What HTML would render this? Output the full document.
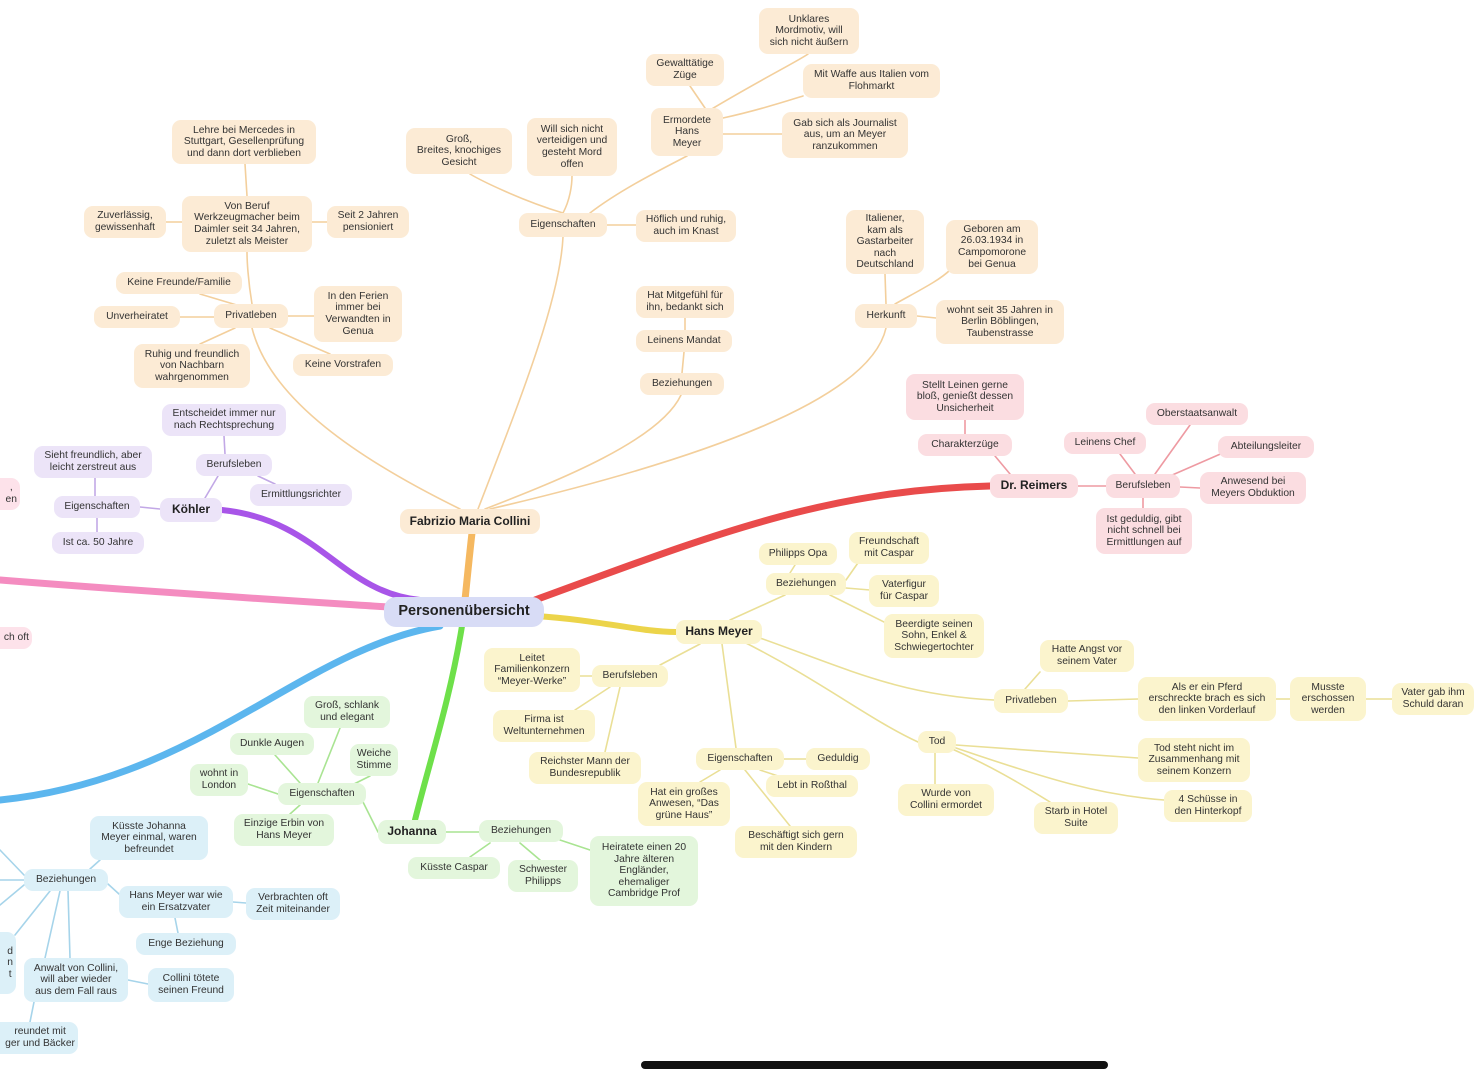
<!DOCTYPE html>
<html><head><meta charset="utf-8"><style>
html,body{margin:0;padding:0;background:#fff;}
#w{position:relative;width:1482px;height:1080px;overflow:hidden;font-family:"Liberation Sans",sans-serif;}
svg{position:absolute;left:0;top:0;}
.n{position:absolute;display:flex;align-items:center;justify-content:center;text-align:center;border-radius:9px;font-size:10.3px;line-height:11.6px;color:#333;box-sizing:border-box;padding:0 3px;}
.o{background:#fcebd5}.r{background:#fbdde1}.p{background:#ece4f8}.y{background:#fbf4cd}.g{background:#e3f6dc}.b{background:#dcf0f8}.k{background:#fde2ea}
.B{font-weight:bold;font-size:12px;color:#222}
</style></head><body><div id="w">
<svg width="1482" height="1080" fill="none" stroke-linecap="round">
<!-- main branches -->
<path d="M465,600 C468,570 470,550 472,533" stroke="#f5b860" stroke-width="7"/>
<path d="M535,600 C700,540 820,490 990,486" stroke="#e94b4b" stroke-width="7"/>
<path d="M535,616 C600,620 640,632 676,632" stroke="#ecd44a" stroke-width="6"/>
<path d="M222,510 C320,520 340,592 420,600" stroke="#a855e8" stroke-width="6"/>
<path d="M0,580 C150,592 280,600 388,607" stroke="#f48cc0" stroke-width="7"/>
<path d="M440,626 C300,650 200,780 0,800" stroke="#5cb6ee" stroke-width="7"/>
<path d="M462,626 C450,700 430,760 415,820" stroke="#6ee04a" stroke-width="6"/>
<g stroke="#f3cf9c" stroke-width="1.6">
<path d="M478,509 C520,400 560,300 563,237"/>
<path d="M485,509 C560,480 660,440 681,395"/>
<path d="M490,509 C700,460 870,400 886,328"/>
<path d="M460,509 C360,460 270,400 252,328"/>
<path d="M563,213 C520,200 480,180 470,174"/>
<path d="M563,213 C570,200 572,185 572,176"/>
<path d="M590,213 C620,190 660,170 687,156"/>
<path d="M607,225 L636,225"/>
<path d="M705,108 L690,86"/><path d="M710,110 C760,80 800,60 808,54"/>
<path d="M723,118 C760,110 790,100 803,96"/><path d="M723,134 L782,134"/>
<path d="M685,318 L685,330"/><path d="M684,352 L682,373"/>
<path d="M886,304 L885,274"/><path d="M895,304 C920,290 940,280 950,270"/><path d="M917,316 L936,318"/>
<path d="M252,304 C248,280 247,260 247,252"/><path d="M247,196 L245,164"/>
<path d="M166,222 L182,222"/><path d="M312,222 L327,222"/>
<path d="M240,306 L200,294"/><path d="M180,317 L214,317"/><path d="M288,316 L314,316"/>
<path d="M235,328 L200,344"/><path d="M270,328 L330,354"/>
</g>
<g stroke="#ee9aa2" stroke-width="1.6">
<path d="M1078,486 L1106,486"/><path d="M1010,474 L995,456"/><path d="M965,434 L965,420"/>
<path d="M1135,474 L1120,454"/><path d="M1155,474 L1190,425"/><path d="M1170,476 L1225,452"/><path d="M1180,487 L1200,488"/><path d="M1143,498 L1143,508"/>
</g>
<g stroke="#c2a8e6" stroke-width="1.6">
<path d="M205,498 L218,476"/><path d="M225,454 L224,436"/><path d="M258,476 L275,484"/>
<path d="M140,507 L160,509"/><path d="M95,496 L95,478"/><path d="M97,518 L97,532"/>
</g>
<g stroke="#eadf96" stroke-width="1.6">
<path d="M730,620 L785,595"/><path d="M790,573 L795,565"/><path d="M846,580 L860,560"/><path d="M846,588 L870,590"/><path d="M830,595 L900,630"/>
<path d="M700,644 L660,665"/><path d="M592,676 L580,676"/><path d="M610,687 L575,710"/><path d="M620,687 L605,752"/>
<path d="M722,644 L736,748"/><path d="M784,759 L806,759"/><path d="M760,770 L790,780"/><path d="M720,770 L700,782"/><path d="M745,770 L790,826"/>
<path d="M760,638 C850,670 900,695 994,700"/><path d="M1025,689 L1040,672"/><path d="M1068,701 L1138,699"/><path d="M1276,699 L1290,699"/><path d="M1366,699 L1392,699"/>
<path d="M740,640 C820,680 870,720 918,742"/><path d="M935,753 L935,784"/><path d="M956,745 L1138,758"/><path d="M950,748 C1000,770 1030,790 1050,802"/><path d="M956,748 C1050,780 1100,795 1164,800"/>
</g>
<g stroke="#a9e492" stroke-width="1.6">
<path d="M378,832 L362,800"/><path d="M318,783 L340,728"/><path d="M300,783 L275,755"/><path d="M350,786 L370,776"/><path d="M278,794 L248,784"/><path d="M300,805 L290,814"/>
<path d="M446,832 L479,832"/><path d="M490,843 L470,857"/><path d="M520,843 L540,860"/><path d="M560,840 L590,850"/>
</g>
<g stroke="#a6d4ea" stroke-width="1.6">
<path d="M0,850 L24,875"/><path d="M0,880 L24,880"/><path d="M0,905 L24,885"/><path d="M90,869 L100,860"/><path d="M108,884 L119,894"/>
<path d="M233,902 L246,903"/><path d="M175,918 L178,933"/><path d="M50,891 L15,935"/><path d="M60,891 L45,958"/><path d="M68,891 L70,958"/><path d="M128,980 L148,984"/><path d="M34,1002 L30,1022"/>
</g>
</svg>

<div class="n o B" style="left:400px;top:509px;width:140px;height:25px">Fabrizio Maria Collini</div>
<div class="n o" style="left:519px;top:213px;width:88px;height:24px">Eigenschaften</div>
<div class="n o" style="left:406px;top:128px;width:106px;height:46px">Groß,<br>Breites, knochiges<br>Gesicht</div>
<div class="n o" style="left:527px;top:118px;width:90px;height:58px">Will sich nicht<br>verteidigen und<br>gesteht Mord<br>offen</div>
<div class="n o" style="left:636px;top:210px;width:100px;height:32px">Höflich und ruhig,<br>auch im Knast</div>
<div class="n o" style="left:651px;top:108px;width:72px;height:48px">Ermordete<br>Hans<br>Meyer</div>
<div class="n o" style="left:646px;top:54px;width:78px;height:32px">Gewalttätige<br>Züge</div>
<div class="n o" style="left:759px;top:8px;width:100px;height:46px">Unklares<br>Mordmotiv, will<br>sich nicht äußern</div>
<div class="n o" style="left:803px;top:64px;width:137px;height:34px">Mit Waffe aus Italien vom<br>Flohmarkt</div>
<div class="n o" style="left:782px;top:112px;width:126px;height:46px">Gab sich als Journalist<br>aus, um an Meyer<br>ranzukommen</div>
<div class="n o" style="left:636px;top:286px;width:98px;height:32px">Hat Mitgefühl für<br>ihn, bedankt sich</div>
<div class="n o" style="left:636px;top:330px;width:96px;height:22px">Leinens Mandat</div>
<div class="n o" style="left:640px;top:373px;width:84px;height:22px">Beziehungen</div>
<div class="n o" style="left:855px;top:304px;width:62px;height:24px">Herkunft</div>
<div class="n o" style="left:846px;top:210px;width:78px;height:64px">Italiener,<br>kam als<br>Gastarbeiter<br>nach<br>Deutschland</div>
<div class="n o" style="left:946px;top:220px;width:92px;height:54px">Geboren am<br>26.03.1934 in<br>Campomorone<br>bei Genua</div>
<div class="n o" style="left:936px;top:300px;width:128px;height:44px">wohnt seit 35 Jahren in<br>Berlin Böblingen,<br>Taubenstrasse</div>
<div class="n o" style="left:214px;top:304px;width:74px;height:24px">Privatleben</div>
<div class="n o" style="left:172px;top:120px;width:144px;height:44px">Lehre bei Mercedes in<br>Stuttgart, Gesellenprüfung<br>und dann dort verblieben</div>
<div class="n o" style="left:182px;top:196px;width:130px;height:56px">Von Beruf<br>Werkzeugmacher beim<br>Daimler seit 34 Jahren,<br>zuletzt als Meister</div>
<div class="n o" style="left:84px;top:206px;width:82px;height:32px">Zuverlässig,<br>gewissenhaft</div>
<div class="n o" style="left:327px;top:206px;width:82px;height:32px">Seit 2 Jahren<br>pensioniert</div>
<div class="n o" style="left:116px;top:272px;width:126px;height:22px">Keine Freunde/Familie</div>
<div class="n o" style="left:94px;top:306px;width:86px;height:22px">Unverheiratet</div>
<div class="n o" style="left:314px;top:286px;width:88px;height:56px">In den Ferien<br>immer bei<br>Verwandten in<br>Genua</div>
<div class="n o" style="left:134px;top:344px;width:116px;height:44px">Ruhig und freundlich<br>von Nachbarn<br>wahrgenommen</div>
<div class="n o" style="left:293px;top:354px;width:100px;height:22px">Keine Vorstrafen</div>

<div class="n r B" style="left:990px;top:474px;width:88px;height:24px">Dr. Reimers</div>
<div class="n r" style="left:1106px;top:474px;width:74px;height:24px">Berufsleben</div>
<div class="n r" style="left:918px;top:434px;width:94px;height:22px">Charakterzüge</div>
<div class="n r" style="left:906px;top:374px;width:118px;height:46px">Stellt Leinen gerne<br>bloß, genießt dessen<br>Unsicherheit</div>
<div class="n r" style="left:1064px;top:432px;width:82px;height:22px">Leinens Chef</div>
<div class="n r" style="left:1146px;top:403px;width:102px;height:22px">Oberstaatsanwalt</div>
<div class="n r" style="left:1218px;top:436px;width:96px;height:22px">Abteilungsleiter</div>
<div class="n r" style="left:1200px;top:472px;width:106px;height:32px">Anwesend bei<br>Meyers Obduktion</div>
<div class="n r" style="left:1096px;top:508px;width:96px;height:46px">Ist geduldig, gibt<br>nicht schnell bei<br>Ermittlungen auf</div>

<div class="n p B" style="left:160px;top:498px;width:62px;height:24px">Köhler</div>
<div class="n p" style="left:196px;top:454px;width:76px;height:22px">Berufsleben</div>
<div class="n p" style="left:162px;top:404px;width:124px;height:32px">Entscheidet immer nur<br>nach Rechtsprechung</div>
<div class="n p" style="left:250px;top:484px;width:102px;height:22px">Ermittlungsrichter</div>
<div class="n p" style="left:54px;top:496px;width:86px;height:22px">Eigenschaften</div>
<div class="n p" style="left:34px;top:446px;width:118px;height:32px">Sieht freundlich, aber<br>leicht zerstreut aus</div>
<div class="n p" style="left:52px;top:532px;width:92px;height:22px">Ist ca. 50 Jahre</div>

<div class="n k" style="left:-10px;top:478px;width:30px;height:32px;justify-content:flex-end">,<br>en</div>
<div class="n k" style="left:-10px;top:627px;width:42px;height:22px;justify-content:flex-end">ch oft</div>

<div class="n" style="left:384px;top:597px;width:160px;height:30px;background:#d8dcf6;border-radius:12px;font-weight:bold;font-size:14.5px;color:#222">Personenübersicht</div>

<div class="n y B" style="left:676px;top:620px;width:86px;height:24px">Hans Meyer</div>
<div class="n y" style="left:766px;top:573px;width:80px;height:22px">Beziehungen</div>
<div class="n y" style="left:759px;top:543px;width:78px;height:22px">Philipps Opa</div>
<div class="n y" style="left:849px;top:532px;width:80px;height:32px">Freundschaft<br>mit Caspar</div>
<div class="n y" style="left:869px;top:575px;width:70px;height:32px">Vaterfigur<br>für Caspar</div>
<div class="n y" style="left:884px;top:614px;width:100px;height:44px">Beerdigte seinen<br>Sohn, Enkel &amp;<br>Schwiegertochter</div>
<div class="n y" style="left:592px;top:665px;width:76px;height:22px">Berufsleben</div>
<div class="n y" style="left:484px;top:648px;width:96px;height:44px">Leitet<br>Familienkonzern<br>“Meyer-Werke”</div>
<div class="n y" style="left:493px;top:710px;width:102px;height:32px">Firma ist<br>Weltunternehmen</div>
<div class="n y" style="left:529px;top:752px;width:112px;height:32px">Reichster Mann der<br>Bundesrepublik</div>
<div class="n y" style="left:696px;top:748px;width:88px;height:22px">Eigenschaften</div>
<div class="n y" style="left:806px;top:748px;width:64px;height:22px">Geduldig</div>
<div class="n y" style="left:766px;top:775px;width:92px;height:22px">Lebt in Roßthal</div>
<div class="n y" style="left:638px;top:782px;width:92px;height:44px">Hat ein großes<br>Anwesen, “Das<br>grüne Haus”</div>
<div class="n y" style="left:735px;top:826px;width:122px;height:32px">Beschäftigt sich gern<br>mit den Kindern</div>
<div class="n y" style="left:994px;top:689px;width:74px;height:24px">Privatleben</div>
<div class="n y" style="left:1040px;top:640px;width:94px;height:32px">Hatte Angst vor<br>seinem Vater</div>
<div class="n y" style="left:1138px;top:677px;width:138px;height:44px">Als er ein Pferd<br>erschreckte brach es sich<br>den linken Vorderlauf</div>
<div class="n y" style="left:1290px;top:677px;width:76px;height:44px">Musste<br>erschossen<br>werden</div>
<div class="n y" style="left:1392px;top:683px;width:82px;height:32px">Vater gab ihm<br>Schuld daran</div>
<div class="n y" style="left:918px;top:731px;width:38px;height:22px">Tod</div>
<div class="n y" style="left:898px;top:784px;width:96px;height:32px">Wurde von<br>Collini ermordet</div>
<div class="n y" style="left:1034px;top:802px;width:84px;height:32px">Starb in Hotel<br>Suite</div>
<div class="n y" style="left:1138px;top:738px;width:112px;height:44px">Tod steht nicht im<br>Zusammenhang mit<br>seinem Konzern</div>
<div class="n y" style="left:1164px;top:790px;width:88px;height:32px">4 Schüsse in<br>den Hinterkopf</div>

<div class="n g B" style="left:378px;top:820px;width:68px;height:24px">Johanna</div>
<div class="n g" style="left:278px;top:783px;width:88px;height:22px">Eigenschaften</div>
<div class="n g" style="left:304px;top:696px;width:86px;height:32px">Groß, schlank<br>und elegant</div>
<div class="n g" style="left:230px;top:733px;width:84px;height:22px">Dunkle Augen</div>
<div class="n g" style="left:350px;top:744px;width:48px;height:32px">Weiche<br>Stimme</div>
<div class="n g" style="left:190px;top:764px;width:58px;height:32px">wohnt in<br>London</div>
<div class="n g" style="left:234px;top:814px;width:100px;height:32px">Einzige Erbin von<br>Hans Meyer</div>
<div class="n g" style="left:479px;top:820px;width:84px;height:22px">Beziehungen</div>
<div class="n g" style="left:408px;top:857px;width:92px;height:22px">Küsste Caspar</div>
<div class="n g" style="left:508px;top:860px;width:70px;height:32px">Schwester<br>Philipps</div>
<div class="n g" style="left:590px;top:836px;width:108px;height:70px">Heiratete einen 20<br>Jahre älteren<br>Engländer,<br>ehemaliger<br>Cambridge Prof</div>

<div class="n b" style="left:24px;top:869px;width:84px;height:22px">Beziehungen</div>
<div class="n b" style="left:90px;top:816px;width:118px;height:44px">Küsste Johanna<br>Meyer einmal, waren<br>befreundet</div>
<div class="n b" style="left:119px;top:886px;width:114px;height:32px">Hans Meyer war wie<br>ein Ersatzvater</div>
<div class="n b" style="left:246px;top:888px;width:94px;height:32px">Verbrachten oft<br>Zeit miteinander</div>
<div class="n b" style="left:136px;top:933px;width:100px;height:22px">Enge Beziehung</div>
<div class="n b" style="left:24px;top:958px;width:104px;height:44px">Anwalt von Collini,<br>will aber wieder<br>aus dem Fall raus</div>
<div class="n b" style="left:148px;top:968px;width:86px;height:34px">Collini tötete<br>seinen Freund</div>
<div class="n b" style="left:-10px;top:932px;width:26px;height:62px;justify-content:flex-end">d<br>n<br>t</div>
<div class="n b" style="left:-30px;top:1022px;width:108px;height:32px;justify-content:flex-end">reundet mit<br>ger und Bäcker</div>

<div style="position:absolute;left:641px;top:1061px;width:467px;height:8px;border-radius:4px;background:#111"></div>
</div></body></html>
